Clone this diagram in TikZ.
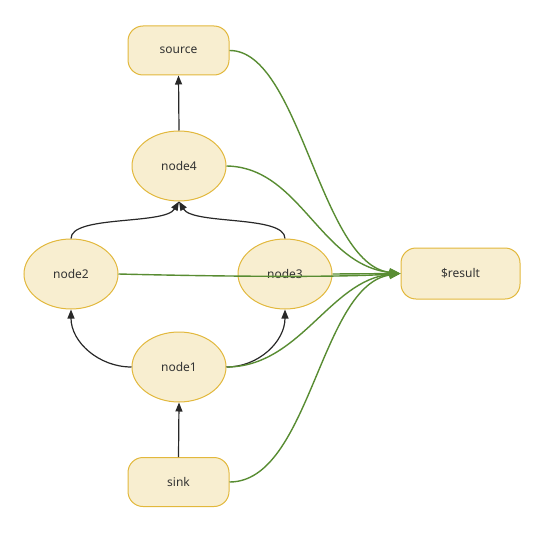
\documentclass[tikz,border=0pt]{standalone}
\usepackage{fontspec}
\setmainfont{Noto Sans}
\usetikzlibrary{arrows.meta,shapes.geometric}
\definecolor{boxfill}{RGB}{248,238,208}
\definecolor{boxdraw}{RGB}{226,184,60}
\definecolor{flow}{RGB}{88,140,50}
\definecolor{dep}{RGB}{40,40,40}
\tikzset{
  term/.style={rectangle, rounded corners=15pt, draw=boxdraw, fill=boxfill, line width=1pt, minimum width=101pt, minimum height=49pt, font=\fontsize{12}{14}\selectfont, text=black!80},
  proc/.style={ellipse, draw=boxdraw, fill=boxfill, line width=1pt, minimum width=94pt, minimum height=70pt, inner sep=0pt, font=\fontsize{12}{14}\selectfont, text=black!80},
  depedge/.style={draw=dep, line width=1.2pt, -{Triangle[length=9pt,width=7pt]}},
  flowedge/.style={draw=flow, line width=1.4pt, -{Triangle[length=11pt,width=8pt]}}
}
\begin{document}
\begin{tikzpicture}[x=1pt,y=-1pt]
\useasboundingbox (0,0) rectangle (545,532);
\node[term] (source) at (178.5,50.5) {source};
\node[proc] (n4) at (179,166) {node4};
\node[proc] (n2) at (71,274) {node2};
\node[proc] (n3) at (285,274) {node3};
\node[proc] (n1) at (179,367) {node1};
\node[term] (sink) at (178.5,482) {sink};
\node[term, minimum width=119pt, minimum height=51pt] (res) at (460.5,273.5) {\$result};

\draw[depedge] (sink.north) -- (n1.south);
\draw[depedge] (n4.north) -- (source.south);
\draw[depedge] (n1.west) to[out=180,in=-90] (n2.south);
\draw[depedge] (n1.east) to[out=0,in=-90] (n3.south);
\draw[depedge] (n2.north) .. controls (71,215) and (165,225) .. (n4.south);
\draw[depedge] (n3.north) .. controls (285,215) and (193,225) .. (n4.south);

\draw[flowedge] (source.east) .. controls (300,50) and (320,265) .. (res.west);
\draw[flowedge] (n4.east) .. controls (300,167) and (320,265) .. (res.west);
\draw[flowedge] (n2.east) .. controls (200,276) and (330,278) .. (res.west);
\draw[flowedge] (n3.east) -- (res.west);
\draw[flowedge] (n1.east) .. controls (300,367) and (330,280) .. (res.west);
\draw[flowedge] (sink.east) .. controls (310,482) and (320,285) .. (res.west);
\end{tikzpicture}
\end{document}
